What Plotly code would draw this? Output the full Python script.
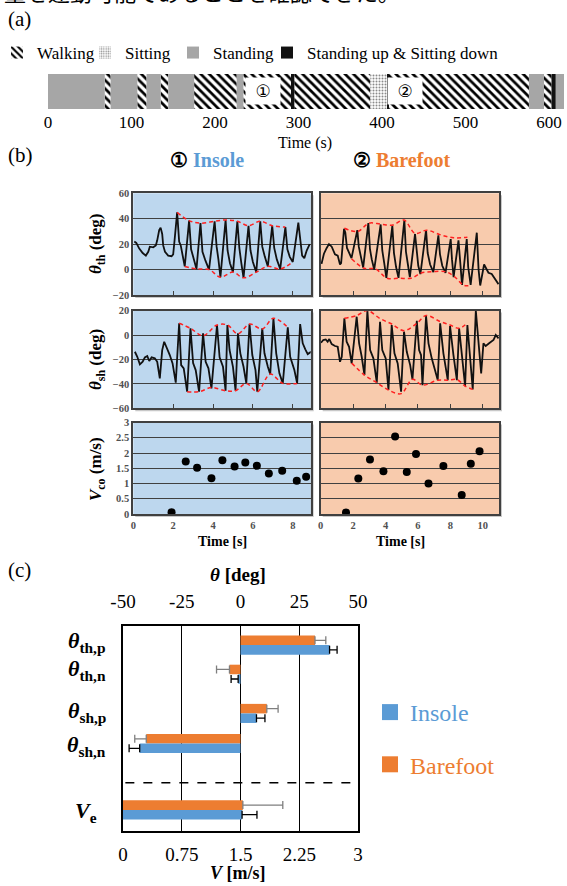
import plotly.graph_objects as go

# ================= DATA =================
# (a) activity timeline, seconds
walk_start = [68, 107, 135, 175, 234, 295, 408, 594]
walk_end = [75, 118, 144, 226, 291, 386, 576, 603]
sit_start = [386]
sit_end = [406]
stand_start = [0, 75, 118, 144, 226, 576, 608]
stand_end = [68, 107, 135, 175, 234, 594, 618]
trans_start = [291, 406, 603]
trans_end = [295, 408, 608]
time_ticks = [0, 100, 200, 300, 400, 500, 600]
trial_marks = ["①", "②"]
trial_mark_t = [258, 428]

# (b) thigh angle, insole
ins_th_t = [0.05, 0.15, 0.3, 0.47, 0.63, 0.75, 0.83, 1.0, 1.13, 1.2, 1.3, 1.37, 1.45, 1.5, 1.59, 1.75, 1.92, 2.0, 2.07,
            2.2, 2.3, 2.38, 2.58, 2.8, 2.9, 3.0, 3.17, 3.37, 3.47, 3.62, 3.8, 4.08, 4.18, 4.27, 4.37,
            4.63, 4.73, 4.85, 5.0, 5.22, 5.32, 5.42, 5.53, 5.78, 5.88, 6.0, 6.17, 6.37, 6.47, 6.6, 6.75,
            6.97, 7.07, 7.2, 7.37, 7.63, 7.73, 7.85, 8.0, 8.28, 8.38, 8.47, 8.58, 8.7, 8.85]
ins_th_v = [22, 21, 16.5, 13, 11, 14, 18, 17.5, 19, 23, 31, 33, 28, 19, 14, 11, 10.5, 12, 23,
            45, 22, 19, 2.5, 38.5, 16, 10, 0.5, 36.5, 14, 7, 0, 38, 18, 8, -6,
            39, 15, 5, -2, 38, 17, 5, -6.5, 34.5, 15, 6, -2, 38, 18, 10, 2.5,
            34.5, 17, 8, 0.5, 33.5, 16, 10, 6, 37, 20, 11, 9, 15, 20]
ins_th_up_t = [2.2, 2.8, 3.37, 4.08, 4.63, 5.22, 5.78, 6.37, 6.97, 7.63]
ins_th_up_v = [45, 38.5, 36.5, 38, 39, 38, 34.5, 38, 34.5, 33.5]
ins_th_lo_t = [2.58, 3.17, 3.8, 4.37, 5.0, 5.53, 6.17, 6.75, 7.37, 8.0]
ins_th_lo_v = [2.5, 0.5, 0, -6, -2, -6.5, -2, 2.5, 0.5, 6]

# (b) thigh angle, barefoot
bf_th_t = [0.05, 0.2, 0.37, 0.51, 0.68, 0.88, 1.05, 1.19, 1.26,
           1.44, 1.52, 1.62, 1.9, 2.26, 2.35, 2.45, 2.62, 2.94, 3.04, 3.15, 3.3,
           3.7, 3.8, 3.92, 4.05, 4.42, 4.52, 4.65, 4.8, 5.16, 5.26, 5.38, 5.5,
           5.82, 5.92, 6.02, 6.15, 6.5, 6.6, 6.75, 6.95, 7.26, 7.36, 7.5, 7.7,
           8.02, 8.1, 8.2, 8.5, 8.6, 8.72, 9.01, 9.1, 9.25,
           9.63, 9.74, 9.84, 10.08, 10.35, 10.55, 10.76, 10.97]
bf_th_v = [4.5, 12.5, 17, 20, 18, 12, 11, 4, 5,
           32, 29, 17, 9, 31, 18, 12, 1.5, 36.5, 16, 8, 0,
           35.5, 15, 5, -6.5, 34.5, 13, 2, -6.5, 39, 14, 4, -6,
           28, 12, 3, -3.5, 31, 13, 4, -2, 27, 12, 3, -2.5,
           24, 8, -6, 23, 5, -12, 24, 2, -12,
           29, 0, -12.5, 4, -2.5, -3.5, -7.5, -11.5]
bf_th_up_t = [1.46, 2.28, 2.98, 3.72, 4.44, 5.14, 5.82, 6.55, 7.35, 8.2, 9.05]
bf_th_up_v = [32.5, 30, 36.5, 35.7, 35, 39, 28.5, 31, 27.5, 25, 25.5]
bf_th_lo_t = [1.9, 2.68, 3.38, 4.1, 4.85, 5.58, 6.2, 6.95, 7.68, 8.2, 8.85, 9.3]
bf_th_lo_v = [8.5, 1, 0.5, -6.8, -6.8, -6.8, -2.7, -1.6, -1.6, -5, -12.5, -12.3]

# (b) shank angle, insole
ins_sh_t = [0.08, 0.2, 0.33, 0.47, 0.58, 0.7, 0.8, 0.92, 1.08, 1.2, 1.33, 1.45, 1.55, 1.67, 1.83, 1.97, 2.13,
            2.3, 2.4, 2.53, 2.7, 2.87, 3.0, 3.13, 3.3, 3.5, 3.63, 3.77, 3.92,
            4.2, 4.33, 4.5, 4.63, 4.72, 4.83, 5.0, 5.13, 5.25, 5.37, 5.53, 5.67,
            5.83, 5.97, 6.13, 6.22, 6.47, 6.58, 6.75, 6.87, 7.03, 7.17, 7.33, 7.5,
            7.75, 7.87, 8.08, 8.22, 8.37, 8.5, 8.63, 8.75, 8.92]
ins_sh_v = [-13.7, -17.8, -24, -21.9, -18.3, -17.2, -21.3, -18.3, -19.1, -21.9, -35.5, -12.3, -5.5, -9.6, -16.4, -23.2, -39,
            9.6, -24.6, -27.3, -46.4, 5.5, -23, -28.7, -46.4, 1.4, -21.9, -27.3, -43.7,
            8.2, -18.3, -26, -45.6, 8.2, -12.3, -26, -45.6, 1.4, -15, -26, -39.6,
            9, -16.4, -28.7, -46.4, 5.5, -15, -26, -32, 13.7, -15, -31.4, -39.6,
            6.3, -17.8, -28.7, -39.6, 9, -6.8, -11.7, -15.6, -13.7]
ins_sh_up_t = [2.3, 2.87, 3.5, 4.2, 4.72, 5.25, 5.83, 6.47, 7.03, 7.75]
ins_sh_up_v = [9.6, 5.5, -0.5, 8.2, 8.2, 1, 9, 5, 13.7, 6.3]
ins_sh_lo_t = [2.7, 3.3, 3.92, 4.63, 5.13, 5.67, 6.22, 6.87, 7.5, 8.22]
ins_sh_lo_v = [-46.4, -46.4, -43, -45.6, -45.6, -39.6, -46.4, -32, -39.6, -39.6]

# (b) shank angle, barefoot
bf_sh_t = [0.02, 0.16, 0.31, 0.43, 0.53, 0.68, 0.88, 1.05, 1.19, 1.3,
           1.46, 1.6, 1.75, 1.91, 2.22, 2.37, 2.53, 2.7, 2.88, 3.05, 3.25, 3.46,
           3.66, 3.8, 4.01, 4.18, 4.38, 4.55, 4.75, 4.96, 5.14, 5.31, 5.52, 5.66,
           5.93, 6.07, 6.19, 6.28, 6.5, 6.65, 6.85, 7.22,
           7.37, 7.57, 7.84, 7.98, 8.19, 8.4, 8.54, 8.7, 8.91, 9.05, 9.22, 9.38,
           9.57, 9.73, 9.9, 10.04, 10.18, 10.39, 10.66, 10.8, 10.97]
bf_sh_v = [-6.3, -4.1, -3.6, -5.5, -3.3, -7.4, -9, -9.6, -21.9, -17.8,
           13.7, -5.5, -9.6, -23.2, 15, -6.8, -17.8, -32.8, 20, -12.3, -19.1, -39,
           10.9, -12.3, -19.1, -45, 8.2, -15, -23.2, -46.4, 2.7, -13.7, -24.6, -36.3,
           11.7, -12.3, -16.4, -41, 15.6, -6.8, -19.1, -36.9,
           9.6, -15, -36.9, 7.4, -16.4, -36.9, 5.5, -17.8, -41.8, 8.2, -23.2, -44.5,
           20, -4.1, -31.4, -6.8, -9, -6.8, -4.1, 0, -2.7]
bf_sh_up_t = [1.46, 2.22, 2.88, 3.66, 4.38, 5.14, 5.93, 6.5, 7.37, 7.98, 8.54, 9.05]
bf_sh_up_v = [13.7, 16, 20, 13.5, 9, 3.6, 9.6, 16, 11, 8.2, 5.5, 10]
bf_sh_lo_t = [1.91, 2.7, 3.46, 4.18, 4.96, 5.66, 6.28, 7.22, 7.84, 8.4, 8.91, 9.38]
bf_sh_lo_v = [-23, -32.8, -39, -45, -48, -36.3, -41, -37, -37, -36.5, -41.8, -44.5]

# (b) velocity of centre (m/s)
ins_v_t = [1.92, 2.63, 3.2, 3.92, 4.47, 5.08, 5.62, 6.2, 6.8, 7.47, 8.2, 8.67]
ins_v = [0.06, 1.72, 1.52, 1.17, 1.76, 1.56, 1.69, 1.58, 1.33, 1.42, 1.09, 1.22]
bf_v_t = [1.56, 2.32, 3.04, 3.87, 4.59, 5.31, 5.88, 6.65, 7.57, 8.7, 9.26, 9.8]
bf_v = [0.05, 1.16, 1.79, 1.4, 2.54, 1.38, 1.97, 1.0, 1.57, 0.62, 1.65, 2.06]

# (c) summary bars
theta_labels = ["th,p", "th,n", "sh,p", "sh,n"]
insole_theta = [37.9, -1.0, 6.8, -42.9]
insole_theta_err = [3.2, 3.0, 3.6, 4.5]
barefoot_theta = [31.7, -4.7, 11.2, -40.1]
barefoot_theta_err = [4.6, 5.5, 4.8, 4.9]
insole_ve = [1.52]
insole_ve_err = [0.19]
barefoot_ve = [1.53]
barefoot_ve_err = [0.51]
theta_ticks = [-50, -25, 0, 25, 50]
v_ticks = [0, 0.75, 1.5, 2.25, 3]

# ================= STYLE / LAYOUT HELPERS =================
W, H = 567, 886
SERIF = "Liberation Serif"
BLUE, ORANGE = "#5B9BD5", "#ED7D31"
BG_BLUE, BG_ORANGE = "#BDD7EE", "#F8CBAD"
FRAME = "#404040"


def px(x):
    return x / W


def py(y):
    return 1 - y / H


fig = go.Figure()
layout = dict(width=W, height=H, margin=dict(l=0, r=0, t=0, b=0, autoexpand=False),
              paper_bgcolor="white", plot_bgcolor="rgba(0,0,0,0)",
              barmode="overlay", showlegend=True)
shapes, annotations = [], []

# ---------- (a) timeline ----------
seg_legends = ["legend", "legend3", "legend4", "legend5"]
seg_legend_x = [-3, 85, 173, 267]   # px of each legend box


def seg_trace(name, starts, ends, marker, leg):
    return go.Bar(name=name, orientation="h", y=[0] * len(starts),
                  base=starts, x=[e - s for s, e in zip(starts, ends)],
                  width=1, marker=marker, xaxis="x", yaxis="y",
                  legend=leg, hoverinfo="skip")

fig.add_trace(seg_trace("Walking", walk_start, walk_end,
                        dict(color="white", line=dict(width=0),
                             pattern=dict(shape="\\", fgcolor="black", bgcolor="white",
                                          size=6, solidity=0.45, fillmode="replace")),
                        seg_legends[0]))
fig.add_trace(seg_trace("Sitting", sit_start, sit_end,
                        dict(color="white", line=dict(width=0),
                             pattern=dict(shape=".", fgcolor="#8a8a8a", bgcolor="white",
                                          size=3, solidity=0.35, fillmode="replace")),
                        seg_legends[1]))
fig.add_trace(seg_trace("Standing", stand_start, stand_end,
                        dict(color="#A6A6A6", line=dict(width=0)), seg_legends[2]))
fig.add_trace(seg_trace("Standing up & Sitting down", trans_start, trans_end,
                        dict(color="#111111", line=dict(width=0)), seg_legends[3]))

for leg, lx in zip(seg_legends, seg_legend_x):
    layout[leg] = dict(x=px(lx), y=py(53), xanchor="left", yanchor="middle",
                       font=dict(family=SERIF, size=17, color="black"),
                       bgcolor="rgba(0,0,0,0)", itemwidth=30)

layout["xaxis"] = dict(domain=[px(48), px(48 + 0.835 * 618)], range=[0, 618], anchor="y",
                       tickvals=time_ticks, showgrid=False, zeroline=False, showline=False,
                       ticks="", ticklabelstandoff=1,
                       tickfont=dict(family=SERIF, size=17, color="black"))
layout["yaxis"] = dict(domain=[py(109), py(74)], range=[-0.5, 0.5], anchor="x", visible=False)

for mark, t in zip(trial_marks, trial_mark_t):
    annotations.append(dict(xref="x", yref="y", x=t, y=0, text=mark, showarrow=False,
                            font=dict(family="DejaVu Sans", size=17, color="black"),
                            bgcolor="white", width=32, height=24))

# ---------- (b) time series ----------
panels = [
    ("x2", "y2", BG_BLUE, (133.3, 310.7), (193.3, 295), 8.9, (-20, 60), [-20, 0, 20, 40, 60], True, False),
    ("x3", "y3", BG_ORANGE, (320.7, 499), (193.3, 295), 11, (-20, 60), [-20, 0, 20, 40, 60], False, False),
    ("x4", "y4", BG_BLUE, (133.3, 310.7), (310.6, 408.3), 8.9, (-60, 20), [-60, -40, -20, 0, 20], True, False),
    ("x5", "y5", BG_ORANGE, (320.7, 499), (310.6, 408.3), 11, (-60, 20), [-60, -40, -20, 0, 20], False, False),
    ("x6", "y6", BG_BLUE, (133.3, 310.7), (422.5, 514), 8.9, (0, 3), [0, 0.5, 1, 1.5, 2, 2.5, 3], True, True),
    ("x7", "y7", BG_ORANGE, (320.7, 499), (422.5, 514), 11, (0, 3), [0, 0.5, 1, 1.5, 2, 2.5, 3], False, True),
]
tick_font = dict(family=SERIF, size=10.5, color="#505050", weight="bold")
for xa, ya, bg, xd, yd, xmax, yr, yt, left, bottom in panels:
    xk, yk = "xaxis" + xa[1:], "yaxis" + ya[1:]
    xtv = [0, 2, 4, 6, 8, 10] if bottom else [2, 4, 6, 8, 10]
    xtv = [v for v in xtv if v < xmax]
    layout[xk] = dict(domain=[px(xd[0]), px(xd[1])], range=[0, xmax], anchor=ya,
                      tickvals=xtv, showticklabels=bottom, ticks="" if bottom else "inside",
                      ticklen=4, tickcolor=FRAME, showgrid=False, zeroline=False,
                      showline=True, mirror=True, linecolor=FRAME, linewidth=2,
                      tickfont=tick_font)
    layout[yk] = dict(domain=[py(yd[1]), py(yd[0])], range=list(yr), anchor=xa,
                      tickvals=yt, showticklabels=left, ticks="", showgrid=True,
                      gridcolor=FRAME, gridwidth=1.2, zeroline=False,
                      showline=True, mirror=True, linecolor=FRAME, linewidth=2,
                      tickfont=tick_font)
    shapes.append(dict(type="rect", xref="paper", yref="paper",
                       x0=px(xd[0] + 2), x1=px(xd[1] + 3), y0=py(yd[1] + 3), y1=py(yd[0] + 2),
                       fillcolor="#C8C8C8", line=dict(width=0), layer="below"))
    shapes.append(dict(type="rect", xref=xa + " domain", yref=ya + " domain",
                       x0=0, x1=1, y0=0, y1=1, fillcolor=bg, line=dict(width=0), layer="below"))


def line(t, v, xa, ya):
    fig.add_trace(go.Scatter(x=t, y=v, mode="lines", line=dict(color="#111111", width=1.8),
                             xaxis=xa, yaxis=ya, showlegend=False, hoverinfo="skip"))


def env(t, v, xa, ya):
    fig.add_trace(go.Scatter(x=t, y=v, mode="lines",
                             line=dict(color="#FF2020", width=1.5, dash="4px,3px", shape="spline"),
                             xaxis=xa, yaxis=ya, showlegend=False, hoverinfo="skip"))


line(ins_th_t, ins_th_v, "x2", "y2")
env(ins_th_up_t, ins_th_up_v, "x2", "y2")
env(ins_th_lo_t, ins_th_lo_v, "x2", "y2")
line(bf_th_t, bf_th_v, "x3", "y3")
env(bf_th_up_t, bf_th_up_v, "x3", "y3")
env(bf_th_lo_t, bf_th_lo_v, "x3", "y3")
line(ins_sh_t, ins_sh_v, "x4", "y4")
env(ins_sh_up_t, ins_sh_up_v, "x4", "y4")
env(ins_sh_lo_t, ins_sh_lo_v, "x4", "y4")
line(bf_sh_t, bf_sh_v, "x5", "y5")
env(bf_sh_up_t, bf_sh_up_v, "x5", "y5")
env(bf_sh_lo_t, bf_sh_lo_v, "x5", "y5")
for t, v, xa, ya in [(ins_v_t, ins_v, "x6", "y6"), (bf_v_t, bf_v, "x7", "y7")]:
    fig.add_trace(go.Scatter(x=t, y=v, mode="markers", marker=dict(color="black", size=8),
                             xaxis=xa, yaxis=ya, showlegend=False, hoverinfo="skip"))

# ---------- (c) summary bars ----------
row_pos = [19, 48, 87, 117]
ve_pos = [183]
bar_h = 9.5


def err(vals, errs):
    return dict(type="data", symmetric=False,
                array=[e if v > 0 else 0 for v, e in zip(vals, errs)],
                arrayminus=[e if v < 0 else 0 for v, e in zip(vals, errs)])


for vals, errs, ypos, xa, color, ecolor, off in [
    (barefoot_theta, barefoot_theta_err, row_pos, "x8", ORANGE, "#7F7F7F", -bar_h),
    (insole_theta, insole_theta_err, row_pos, "x8", BLUE, "#000000", 0),
    (barefoot_ve, barefoot_ve_err, ve_pos, "x9", ORANGE, "#7F7F7F", -bar_h),
    (insole_ve, insole_ve_err, ve_pos, "x9", BLUE, "#000000", 0),
]:
    e = err(vals, errs)
    e.update(color=ecolor, thickness=1.3, width=4)
    fig.add_trace(go.Bar(orientation="h", x=vals, y=ypos, offset=off, width=bar_h,
                         marker=dict(color=color, line=dict(width=0)), error_x=e,
                         xaxis=xa, yaxis="y8", showlegend=False, hoverinfo="skip"))

for name, color, grp in [("Insole", BLUE, "i"), ("Barefoot", ORANGE, "b")]:
    fig.add_trace(go.Scatter(x=[None], y=[None], mode="markers", xaxis="x8", yaxis="y8",
                             marker=dict(symbol="square", size=16, color=color),
                             name=f"<span style='color:{color}'>{name}</span>",
                             legend="legend2", legendgroup=grp, showlegend=True))

layout["legend2"] = dict(x=px(370), y=py(690), xanchor="left", yanchor="top",
                         font=dict(family=SERIF, size=24), bgcolor="rgba(0,0,0,0)",
                         tracegroupgap=18, itemwidth=30)

layout["xaxis8"] = dict(domain=[px(123), px(358)], range=[-50, 50], side="top", anchor="y8",
                        tickvals=theta_ticks, ticktext=[str(v) for v in theta_ticks],
                        showgrid=True, gridcolor="black", gridwidth=1.3, zeroline=False,
                        showline=True, mirror=True, linecolor="black", linewidth=2, ticks="",
                        ticklabelstandoff=8, tickfont=dict(family=SERIF, size=19, color="black"))
layout["xaxis9"] = dict(overlaying="x8", side="bottom", anchor="y8", range=[0, 3],
                        tickvals=v_ticks, ticktext=["0", "0.75", "1.5", "2.25", "3"],
                        showgrid=False, zeroline=False, showline=False, ticks="",
                        ticklabelstandoff=10, tickfont=dict(family=SERIF, size=19, color="black"))
layout["yaxis8"] = dict(domain=[py(831), py(626)], range=[204, 0], anchor="x8",
                        showticklabels=False, showgrid=False, zeroline=False, ticks="",
                        showline=True, mirror=True, linecolor="black", linewidth=2)
shapes.append(dict(type="line", xref="x8 domain", yref="y8", x0=0.01, x1=0.99, y0=156, y1=156,
                   line=dict(color="black", width=1.5, dash="dash")))

# ---------- text ----------
def txt(x, y, text, size, xanchor="center", color="black", family=SERIF, angle=0):
    annotations.append(dict(xref="paper", yref="paper", x=px(x), y=py(y), text=text,
                            showarrow=False, xanchor=xanchor, yanchor="middle", textangle=angle,
                            font=dict(family=family, size=size, color=color)))

txt(2, -9, "量を運動可能であることを確認できた。", 22, xanchor="left",
    family="Noto Sans CJK JP")
txt(6, 19, "(a)", 21, xanchor="left")
txt(305, 143, "Time (s)", 16)
txt(6, 155, "(b)", 21, xanchor="left")
txt(207, 160, f"<b>① <span style='color:{BLUE}'>Insole</span></b>", 20)
txt(401, 160, f"<b>② <span style='color:{ORANGE}'>Barefoot</span></b>", 20)
txt(97, 244, "<b><i>θ</i><sub>th</sub> (deg)</b>", 17, angle=-90)
txt(97, 360, "<b><i>θ</i><sub>sh</sub> (deg)</b>", 17, angle=-90)
txt(97, 469, "<b><i>V</i><sub>co</sub> (m/s)</b>", 17, angle=-90)
txt(222, 541, "<b>Time [s]</b>", 14)
txt(400, 541, "<b>Time [s]</b>", 14)
txt(6, 570, "(c)", 21, xanchor="left")
txt(238, 574, "<b><i>θ</i> [deg]</b>", 19)
txt(238, 873, "<b><i>V</i> [m/s]</b>", 18)
for lab, yy in zip(theta_labels, [642, 670, 712, 746]):
    txt(108, yy, f"<b><i>θ</i><sub>{lab}</sub></b>", 22, xanchor="right")
txt(99, 812, "<b><i>V</i><sub>e</sub></b>", 22, xanchor="right")

layout["shapes"] = shapes
layout["annotations"] = annotations
fig.update_layout(**layout)
fig.write_html("out.html", config={"displayModeBar": False},
               post_script="document.body.style.margin='0px';document.body.style.padding='0px';")
